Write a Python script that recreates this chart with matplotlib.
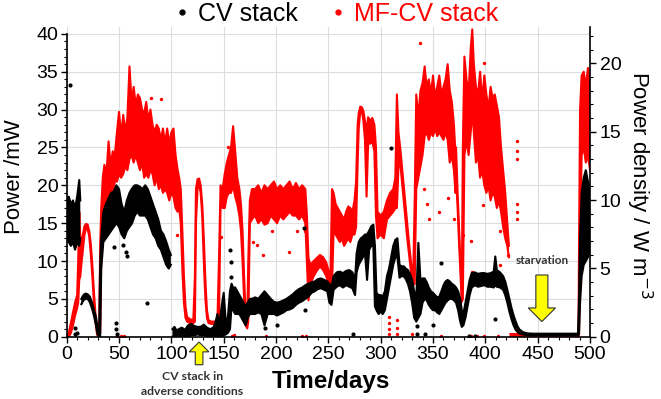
import numpy as np
import matplotlib.pyplot as plt
from matplotlib.lines import Line2D
from matplotlib.patches import FancyArrow
from matplotlib.ticker import MultipleLocator

plt.rcParams['font.family'] = ['Liberation Sans', 'DejaVu Sans']

nan = np.nan

# CV stack: day, lower and upper edge of the dense band of points (mW)
cv_day = [0, 2, 4, 6, 8, 10, 12, 13, 13.5,
          14, 16, 18, 20, 22, 24, 26, 28, 29.5, 31, 32, 33, 35, 37.5, 40, 42.5, 45, 47.5,
          50, 52.5, 55, 57.5, 60, 62.5, 65, 67.5, 70, 72.5, 75, 77.5, 80, 82.5, 85, 87.5,
          90, 92.5, 95, 97.5, 99.5, 100.5,
          101, 103, 105, 107, 110, 113, 116, 119, 122, 125, 128, 131, 134, 137, 140, 142,
          144, 146, 148, 150, 152, 154, 156, 157.5, 159, 161, 163, 165, 167, 169, 171, 173,
          175, 177, 180, 183, 186, 189, 192, 195, 198, 201, 204, 207, 210, 213, 216, 219,
          222, 225, 228, 231, 234, 237, 240, 243, 246, 249, 251, 253, 255, 258, 261, 264,
          267, 270, 273, 275.5, 277, 279, 281, 283, 285, 287, 289, 291, 293, 294.5, 296,
          298, 300, 302, 304, 306, 308, 310, 312, 314, 316, 318, 320, 322, 324, 326, 328,
          330, 332, 334, 336, 338, 340, 342, 344, 346, 348, 350, 352, 354, 356, 358, 360,
          362, 364, 366, 368, 370, 372, 374, 376, 377.5, 379, 381, 383, 385, 387, 390, 393,
          396, 399, 402, 405, 408, 409.5, 411, 414, 417, 419, 421, 423, 425, 427, 429, 431,
          433, 436, 440, 445, 455, 465, 475, 485, 488.5, 489.5, 490.5, 492, 494, 496, 498, 500]
cv_lo = [13.0, 12.5, 12.0, 12.5, 11.5, 12.5, 12.0, 13.0, nan,
         4.3, 4.8, 5.0, 5.0, 4.6, 3.8, 2.8, 1.5, 0.3, 0.0, 0.0, 9.0, 12.5, 13.0, 13.5, 14.0, 14.5, 15.0,
         14.5, 13.5, 13.0, 14.0, 14.5, 15.0, 16.0, 16.5, 16.0, 16.0, 16.0, 15.5, 14.5, 13.5, 13.0, 12.0,
         11.5, 10.5, 9.5, 9.0, 9.5, nan,
         0.0, 0.0, 0.0, 0.0, 0.0, 0.0, 0.0, 0.2, 0.2, 0.3, 0.2, 0.2, 0.1, 0.0, 0.0, 0.0,
         0.0, 0.0, 0.0, 0.2, 0.3, 0.5, 1.0, 4.0, 3.5, 3.0, 3.0, 3.0, 2.5, 2.0, 1.5, 2.5,
         3.0, 3.0, 3.0, 3.2, 3.0, 1.5, 3.0, 3.0, 3.0, 2.8, 3.0, 3.2, 3.5, 3.6, 3.8, 4.2,
         4.5, 4.7, 5.0, 5.3, 5.8, 6.0, 6.3, 6.4, 6.2, 6.0, 4.5, 4.2, 6.2, 6.6, 6.8, 6.5,
         6.8, 6.6, 6.4, 5.5, 8.5, 9.5, 10.0, 10.5, 11.0, 7.5, 11.5, 12.0, 12.0, 4.0, 3.5,
         3.0, 3.3, 3.0, 3.5, 5.0, 6.5, 8.0, 9.5, 10.5, 10.5, 7.8, 8.0, 8.0, 7.6, 7.0, 6.0,
         4.5, 2.5, 2.0, 2.5, 3.0, 4.5, 5.0, 4.8, 4.2, 3.8, 3.5, 3.5, 3.2, 3.0, 3.5, 4.0,
         4.5, 4.8, 5.0, 5.0, 4.8, 4.5, 3.5, 2.0, 1.3, 1.5, 2.5, 4.0, 5.5, 6.5, 6.8, 6.6,
         6.7, 6.8, 6.6, 6.6, 6.5, 6.8, 6.6, 6.5, 6.2, 5.5, 4.5, 3.3, 2.3, 1.5, 0.9, 0.6,
         0.4, 0.3, 0.2, 0.2, 0.2, 0.2, 0.2, 0.2, 0.2, 0.3, 4.5, 8.0, 9.5, 10.0, 10.5, 11.0]
cv_hi = [18.0, 18.5, 17.5, 18.0, 17.0, 18.5, 20.7, 18.0, nan,
         5.0, 5.5, 5.7, 5.6, 5.3, 4.6, 3.6, 2.6, 1.2, 0.4, 9.5, 13.0, 16.5, 17.5, 18.3, 19.0, 19.2, 20.0,
         19.5, 17.5, 16.5, 18.0, 19.0, 19.6, 20.0, 20.0, 19.8, 19.5, 20.0, 19.5, 18.5, 17.5, 16.5, 15.5,
         14.0, 13.5, 12.6, 11.5, 10.8, nan,
         1.0, 1.3, 0.8, 1.0, 1.2, 0.9, 1.5, 1.7, 1.4, 1.3, 1.3, 1.6, 1.2, 1.0, 1.2, 1.8,
         3.0, 1.6, 4.0, 5.8, 2.0, 2.5, 6.0, 7.0, 6.5, 6.5, 6.0, 5.5, 5.0, 4.5, 4.0, 4.5,
         5.0, 5.0, 5.2, 5.0, 5.5, 6.0, 5.5, 5.0, 4.6, 4.5, 4.6, 4.8, 5.0, 5.3, 5.6, 6.0,
         6.3, 6.5, 6.8, 7.0, 7.2, 7.3, 7.6, 7.7, 7.5, 7.3, 7.0, 6.5, 8.0, 8.5, 8.6, 8.4,
         8.7, 8.8, 8.5, 7.5, 11.0, 12.5, 13.0, 13.2, 13.5, 13.5, 14.0, 14.6, 14.8, 12.0, 5.8,
         5.5, 5.5, 5.3, 6.0, 8.0, 9.0, 10.5, 12.0, 12.8, 13.0, 9.5, 9.3, 9.3, 9.0, 8.8, 8.3,
         7.5, 6.0, 5.0, 12.4, 7.5, 7.7, 7.7, 7.2, 6.5, 6.0, 5.8, 5.5, 5.2, 5.3, 6.0, 6.8,
         7.3, 7.5, 7.3, 7.0, 6.8, 6.5, 6.0, 5.0, 3.5, 3.0, 4.5, 6.0, 7.5, 8.4, 8.5, 8.3,
         8.4, 8.4, 8.3, 8.4, 8.6, 10.6, 8.8, 8.5, 8.0, 7.3, 6.2, 5.0, 3.8, 2.8, 2.0, 1.3,
         0.9, 0.6, 0.45, 0.4, 0.4, 0.4, 0.4, 0.4, 0.4, 5.0, 13.0, 19.0, 21.0, 22.0, 20.5, 19.5]

# CV stack: isolated points away from the band
cv_out_day = [3, 8, 8, 9.5, 45, 47.5, 47.5, 48, 54, 57, 57.5, 77, 156.5, 157, 157,
              189, 201, 226.8, 228, 274, 309.5, 335, 335, 342, 350, 357.6, 409.5, 384, 390]
cv_out_val = [33.3, 1.2, 0.3, 0.5, 11.9, 1.8, 1.0, 0.3, 12.1, 11.2, 10.6, 4.5, 11.4, 9.9, 7.9,
              1.2, 1.5, 14.4, 3.5, 0.3, 24.9, 1.4, 0.4, 0.3, 1.5, 9.7, 2.4, 0.1, 0.1]

# MF-CV stack: day, lower and upper edge of the band (mW)
mf_day = [0, 2, 4, 6, 8, 10, 11, 12, 13, 14, 15.5, 17, 18.5, 20, 21.5, 23, 24.5, 26, 27.5,
          29, 30, 31, 32, 33, 34.5, 36, 38, 40, 42, 44, 46, 48, 50, 52, 54, 56, 58, 60, 62,
          64, 66, 68, 70, 72, 74, 76, 78, 80, 82, 84, 86, 88, 90, 92, 94, 96, 98, 100, 102,
          104, 106, 107.5, 109, 110.5, 112, 113.5, 115, 118, 121, 122.5, 123.5, 125, 126.5,
          128, 129.5, 131, 132.5, 134, 135.5, 138, 141, 144, 145.5, 147, 149, 151, 153, 155,
          157, 159, 161, 163, 165, 166.5, 168, 169.5, 171, 172.5, 173.5, 175, 177, 180, 183,
          186, 189, 192, 195, 198, 201, 204, 207, 210, 213, 216, 219, 222, 225, 228, 229.5,
          231, 233, 236, 239, 242, 245, 248, 250, 252, 253.5, 255, 257, 259, 261, 263, 265,
          267, 269, 271, 273, 275, 276.5, 278, 279, 280.5, 282, 283.5, 285, 286.5, 288, 290,
          292, 294, 295.5, 297, 300, 303, 306, 309, 312, 314, 315.5, 317, 319, 321, 323, 325,
          327, 329, 331, 332.5, 334, 336, 338, 340, 342, 344, 346, 348, 350, 352, 354, 356,
          358, 360, 362, 364, 366, 368, 370, 371.5, 372, 373.5, 375, 376.5, 377.5, 378.5, 380,
          382, 384, 386, 387.5, 389, 391, 393, 395, 397, 399, 401, 403, 405, 407, 409, 411,
          413, 415, 417, 419, 421, 422.5, 423.5,
          424, 440, 460, 480, 489, 489.5, 490.5, 492, 494, 496, 498, 500]
mf_lo = [0.0, 0.0, 0.5, 1.5, 2.8, 3.8, 4.5, 7.5, 8.0, 9.5, 11.5, 13.5, 14.3, 14.2, 13.3, 11.0,
         8.0, 4.5, 2.0, 0.3, 0.0, 0.0, 0.5, 10.5, 15.5, 16.0, 17.5, 16.5, 18.5, 19.0, 20.5, 20.5,
         21.5, 21.0, 21.5, 22.5, 22.0, 23.5, 24.0, 23.0, 24.0, 23.0, 22.0, 23.0, 21.0, 21.5, 21.0,
         22.0, 21.5, 20.0, 21.0, 19.5, 20.0, 19.0, 19.5, 19.0, 18.0, 19.0, 18.5, 17.0, 16.5, 17.0,
         15.0, 9.0, 4.5, 2.5, 2.0, 1.8, 1.8, 2.0, 15.0, 19.5, 20.2, 19.0, 16.0, 10.0, 5.0, 2.5,
         1.8, 1.7, 1.7, 1.8, 2.0, 17.5, 17.0, 17.0, 18.5, 19.0, 19.0, 20.0, 18.5, 17.5, 16.0, 14.0,
         10.0, 5.0, 1.5, 1.1, 2.0, 15.0, 15.5, 16.0, 15.0, 15.5, 14.8, 15.0, 16.0, 15.5, 15.0,
         16.0, 15.5, 16.0, 16.5, 16.0, 16.0, 15.5, 16.0, 15.0, 10.0, 4.8, 7.0, 8.0, 8.7, 9.3,
         8.8, 8.0, 7.0, 6.4, 6.5, 14.0, 13.5, 13.0, 12.5, 13.0, 12.0, 12.5, 13.0, 12.5, 13.5,
         13.5, 14.5, 23.0, 27.5, 29.8, 29.8, 28.5, 26.0, 18.5, 25.5, 25.5, 25.8, 24.5, 16.0,
         13.0, 13.5, 13.0, 15.5, 16.0, 16.5, 17.0, 17.0, 22.5, 22.5, 19.5, 16.5, 13.5, 11.0,
         8.5, 6.8, 7.0, 19.5, 21.0, 22.5, 24.0, 26.5, 27.0, 26.0, 27.0, 26.5, 27.5, 26.5, 27.0,
         26.5, 26.0, 27.0, 26.0, 23.0, 24.0, 22.0, 19.0, 21.0, 17.0, 12.0, 7.5, 4.6, 5.0, 24.0,
         26.0, 24.0, 27.0, 30.0, 27.0, 23.0, 24.0, 21.0, 22.0, 20.0, 19.0, 20.0, 18.0, 19.0,
         18.5, 17.0, 18.0, 16.5, 14.5, 13.0, 12.0, 10.5, nan,
         0.05, 0.05, 0.05, 0.05, 0.05, 0.3, 12.0, 24.0, 25.0, 23.0, 24.0, 22.0]
mf_hi = [0.3, 0.5, 1.8, 3.2, 4.5, 5.5, 10.0, 16.5, 13.0, 12.5, 13.5, 14.6, 14.9, 14.8, 14.0, 12.3,
         9.5, 6.0, 3.0, 1.0, 0.3, 0.5, 12.0, 17.0, 21.0, 22.7, 21.5, 25.8, 22.5, 24.5, 24.0, 27.0,
         29.7, 26.5, 29.3, 27.0, 29.0, 35.7, 31.0, 33.0, 30.5, 32.0, 31.5, 30.0, 29.5, 31.0, 28.5,
         30.0, 28.0, 27.0, 28.0, 27.5, 26.0, 27.5, 25.5, 27.5, 25.5, 27.0, 27.5, 24.0, 22.0, 21.0,
         19.5, 14.0, 8.0, 4.0, 2.6, 2.3, 2.2, 8.0, 19.5, 20.8, 20.9, 20.0, 17.5, 13.0, 7.5, 3.5,
         2.2, 2.0, 2.0, 2.1, 10.0, 20.0, 19.5, 21.5, 23.0, 24.0, 25.0, 27.8, 24.5, 21.0, 19.5, 17.5,
         14.0, 8.0, 3.0, 2.0, 10.0, 18.0, 19.5, 19.5, 20.0, 19.0, 20.0, 19.5, 20.0, 20.5, 19.5,
         20.0, 19.5, 20.0, 20.5, 19.5, 20.3, 19.5, 20.0, 19.5, 16.0, 10.4, 9.5, 10.0, 10.4, 10.8,
         10.5, 9.8, 8.8, 8.0, 19.5, 19.0, 17.5, 17.0, 16.5, 16.0, 15.5, 16.5, 17.2, 17.0, 16.5,
         18.0, 20.5, 28.0, 29.5, 30.4, 30.3, 29.8, 28.5, 27.0, 29.0, 28.5, 28.9, 28.0, 25.0,
         16.5, 16.0, 16.5, 18.0, 19.0, 19.5, 21.0, 32.0, 27.0, 24.5, 21.5, 18.5, 15.5, 12.5,
         9.8, 7.6, 18.0, 32.0, 29.0, 32.5, 33.5, 35.7, 33.0, 34.0, 32.0, 34.5, 31.5, 33.0, 34.5,
         32.0, 33.0, 34.0, 36.0, 32.5, 31.0, 28.0, 24.0, 25.0, 19.0, 14.0, 9.0, 5.5, 25.0, 37.0,
         34.0, 32.0, 38.0, 40.6, 36.0, 33.0, 32.0, 35.0, 31.0, 34.5, 32.0, 30.0, 33.0, 31.5,
         32.0, 30.5, 29.0, 25.0, 22.0, 19.0, 15.0, 12.0, nan,
         0.35, 0.35, 0.35, 0.35, 0.35, 12.0, 30.0, 34.5, 35.0, 33.0, 35.5, 33.0]

# MF-CV stack: isolated points away from the band
mf_out_day = [64, 81, 90, 105, 147, 154, 178, 181.5, 188, 196, 212, 220, 228,
              48, 52, 55, 158, 160, 190, 225, 229, 330, 358, 384, 386, 392, 399, 412,
              308, 308, 308, 308, 316, 316, 316, 337.7, 398.4, 341, 344, 346, 356, 364, 370,
              379, 386, 387.5, 398, 414, 414, 422, 430, 430, 430, 430, 430, 430]
mf_out_val = [18.3, 31.5, 31.4, 13.4, 13.2, 25.0, 12.5, 12.1, 10.8, 13.9, 11.2, 13.9, 13.9,
              0.1, 0.1, 0.1, 0.1, 0.2, 0.1, 0.1, 0.1, 0.3, 0.1, 0.1, 0.1, 0.1, 0.1, 0.1,
              0.3, 1.0, 1.8, 2.6, 0.3, 1.2, 2.2, 38.8, 36.1, 19.5, 17.5, 15.6, 16.5, 18.3, 15.5,
              13.4, 12.6, 8.6, 17.4, 13.9, 9.5, 10.8, 25.8, 24.5, 23.5, 17.5, 16.5, 15.6]

RED = '#ff0000'


def draw_band(ax, d, lo, hi, color, z):
    ax.fill_between(d, lo, hi, color=color, lw=0, zorder=z)
    ax.plot(d, lo, color=color, lw=1.5, zorder=z)
    ax.plot(d, hi, color=color, lw=1.5, zorder=z)


fig = plt.figure(figsize=(6.61, 3.99), dpi=100)
ax = fig.add_axes([0.1009, 0.1561, 0.7917, 0.777])

draw_band(ax, mf_day, mf_lo, mf_hi, RED, 2)
ax.scatter(mf_out_day, mf_out_val, s=6, color=RED, lw=0, zorder=2)
draw_band(ax, cv_day, cv_lo, cv_hi, 'black', 3)
ax.scatter(cv_out_day, cv_out_val, s=9, color='black', lw=0, zorder=3)

ax.set_xlim(0, 500)
ax.set_ylim(0, 40.95)
ax.xaxis.set_major_locator(MultipleLocator(50))
ax.xaxis.set_minor_locator(MultipleLocator(10))
ax.yaxis.set_minor_locator(MultipleLocator(1))
ax.set_yticks(range(0, 41, 5))
ax.grid(True, which='major', color='#dddddd', lw=0.8)
ax.set_axisbelow(True)
ax.tick_params(which='major', direction='out', length=4, width=1, labelsize=14, pad=2)
ax.tick_params(which='minor', direction='out', length=2.5, width=0.8)
ax.tick_params(axis='x', which='major', pad=3)
ax.spines['top'].set_visible(False)
ax.spines['right'].set_visible(False)
ax.spines['left'].set_bounds(0, 40)
for s in ('left', 'bottom'):
    ax.spines[s].set_linewidth(1.2)

ax.set_ylabel('Power /mW', fontsize=16, va='center')
ax.yaxis.set_label_coords(-0.1, 0.517)
ax.set_xlabel('Time/days', fontsize=17.5, fontweight='bold', va='center')
ax.xaxis.set_label_coords(0.505, -0.143)

ax2 = ax.twinx()
ax2.set_ylim(0, 22.68)
ax2.yaxis.set_major_locator(MultipleLocator(5))
ax2.yaxis.set_minor_locator(MultipleLocator(1))
for s in ('top', 'left', 'bottom'):
    ax2.spines[s].set_visible(False)
ax2.spines['right'].set_linewidth(1.2)
ax2.tick_params(which='major', direction='out', length=4, width=1, labelsize=14, pad=3)
ax2.tick_params(which='minor', direction='out', length=2.5, width=0.8)
ax2.set_ylabel('Power density / W m$^{-3}$', fontsize=16, rotation=270, va='center')
ax2.yaxis.set_label_coords(1.093, 0.49)

# legend above the plot
handles = [Line2D([], [], ls='none', marker='o', ms=3.5, color='black'),
           Line2D([], [], ls='none', marker='o', ms=3.5, color=RED)]
leg = fig.legend(handles, ['CV stack', 'MF-CV stack'], ncol=2, loc='center',
                 bbox_to_anchor=(0.509, 0.966), frameon=False, fontsize=18,
                 handlelength=0.6, handletextpad=0.35, columnspacing=1.3)
leg.get_texts()[0].set_color('black')
leg.get_texts()[1].set_color(RED)

# yellow arrows and notes
arr1 = FancyArrow(126.5, -3.7, 0, 3.0, width=7.3, head_width=18.8, head_length=1.3,
                  length_includes_head=True, fc='#ffff00', ec='#333333', lw=0.8,
                  clip_on=False, zorder=5)
ax.add_patch(arr1)
ax.text(120, -4.5, 'CV stack in\nadverse conditions', fontsize=8.8, fontweight='bold',
        family=['Lato', 'DejaVu Sans'], color='#333333', ha='center', va='top',
        linespacing=1.5, clip_on=False)

arr2 = FancyArrow(454, 8.15, 0, -6.15, width=11.5, head_width=26, head_length=1.8,
                  length_includes_head=True, fc='#ffff00', ec='#333333', lw=0.8, zorder=5)
ax.add_patch(arr2)
ax.text(454, 9.4, 'starvation', fontsize=8.5, fontweight='bold',
        family=['Lato', 'DejaVu Sans'], color='#333333', ha='center', va='bottom')

fig.savefig('out.png', dpi=100)
